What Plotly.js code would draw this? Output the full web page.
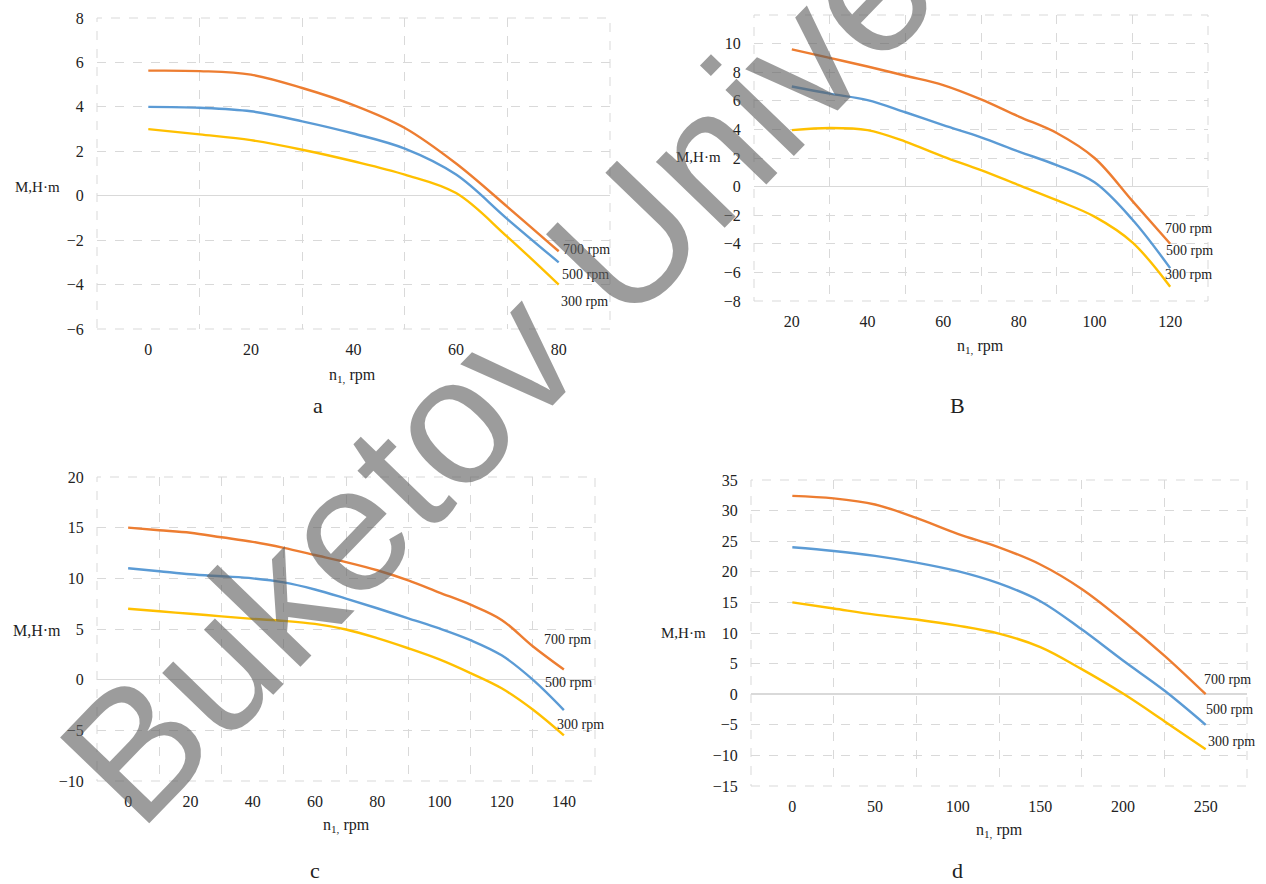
<!DOCTYPE html>
<html>
<head>
<meta charset="utf-8">
<script src="https://cdn.plot.ly/plotly-3.0.1.min.js"></script>
<style>html,body{margin:0;padding:0;background:#fff;}#chart{width:1266px;height:884px;}</style>
</head>
<body>
<div id="chart"></div>
<script>
// ---------- data ----------
const seriesNames = ["700 rpm", "500 rpm", "300 rpm"];
const panelLabels = ["a", "B", "c", "d"];

const aX = [0, 10, 20, 30, 40, 50, 60, 70, 80];
const a700 = [5.63, 5.61, 5.45, 4.85, 4.08, 3.05, 1.45, -0.5, -2.5];
const a500 = [4.0, 3.96, 3.8, 3.35, 2.8, 2.12, 0.95, -1.05, -3.0];
const a300 = [3.0, 2.76, 2.5, 2.07, 1.55, 0.95, 0.12, -1.85, -4.0];

const bX = [20, 30, 40, 50, 60, 70, 80, 90, 100, 110, 120];
const b700 = [9.6, 9.0, 8.4, 7.75, 7.1, 6.1, 4.9, 3.75, 2.0, -1.0, -4.0];
const b500 = [7.0, 6.5, 6.05, 5.2, 4.3, 3.45, 2.45, 1.5, 0.3, -2.3, -5.7];
const b300 = [3.95, 4.1, 3.95, 3.15, 2.1, 1.15, 0.1, -0.95, -2.1, -3.9, -7.0];

const cX = [0, 10, 20, 30, 40, 50, 60, 70, 80, 90, 100, 110, 120, 130, 140];
const c700 = [15.0, 14.75, 14.5, 14.05, 13.6, 13.0, 12.3, 11.6, 10.8, 9.8, 8.6, 7.4, 5.9, 3.3, 1.0];
const c500 = [11.0, 10.7, 10.4, 10.2, 10.0, 9.6, 8.9, 8.0, 7.05, 6.05, 5.05, 3.9, 2.4, 0.0, -3.0];
const c300 = [7.0, 6.75, 6.5, 6.25, 6.0, 5.8, 5.5, 4.95, 4.1, 3.1, 2.0, 0.65, -0.85, -2.95, -5.5];

const dX = [0, 25, 50, 75, 100, 125, 150, 175, 200, 225, 250];
const d700 = [32.4, 32.0, 31.0, 28.8, 26.2, 24.0, 21.2, 17.2, 12.0, 6.3, 0.0];
const d500 = [24.0, 23.4, 22.6, 21.5, 20.1, 18.1, 15.2, 10.6, 5.5, 0.6, -5.0];
const d300 = [15.0, 14.0, 13.0, 12.2, 11.2, 9.9, 7.7, 4.1, 0.1, -4.4, -9.0];

// tick labels
const aTickX = [0, 20, 40, 60, 80];
const aTickY = [-6, -4, -2, 0, 2, 4, 6, 8];
const bTickX = [20, 40, 60, 80, 100, 120];
const bTickY = [-8, -6, -4, -2, 0, 2, 4, 6, 8, 10];
const cTickX = [0, 20, 40, 60, 80, 100, 120, 140];
const cTickY = [-10, -5, 0, 5, 10, 15, 20];
const dTickX = [0, 50, 100, 150, 200, 250];
const dTickY = [-15, -10, -5, 0, 5, 10, 15, 20, 25, 30, 35];

const yTitle = "M,H·m";
const xTitle = "n<sub>1,</sub> rpm";
const watermark = "Buketov University";

// ---------- styling ----------
const W = 1266, H = 884;
const colors = ["#ED7D31", "#5B9BD5", "#FFC000"];
const FONT = "Liberation Serif";
const gridC = "#d9d9d9";

function P(px, py) { return [px / W, 1 - py / H]; }

const panels = [
  {x: aX, ys: [a700, a500, a300], box: [97, 18, 610, 329], xr: [-10, 90], yr: [-6, 8], tx: aTickX, ty: aTickY, g0: -10, gd: 20, yg0: -6, ygd: 2},
  {x: bX, ys: [b700, b500, b300], box: [754, 15, 1208, 301], xr: [10, 130], yr: [-8, 12], tx: bTickX, ty: bTickY, g0: 10, gd: 20, yg0: -8, ygd: 2},
  {x: cX, ys: [c700, c500, c300], box: [97, 477, 595, 781], xr: [-10, 150], yr: [-10, 20], tx: cTickX, ty: cTickY, g0: -10, gd: 20, yg0: -10, ygd: 5},
  {x: dX, ys: [d700, d500, d300], box: [751, 480, 1247, 786], xr: [-25, 275], yr: [-15, 35], tx: dTickX, ty: dTickY, g0: -25, gd: 50, yg0: -15, ygd: 5}
];

const traces = [];
const layout = {
  width: W, height: H,
  margin: {l: 0, r: 0, t: 0, b: 0},
  paper_bgcolor: "#fff", plot_bgcolor: "#fff",
  showlegend: false,
  font: {family: FONT, size: 16, color: "#222"},
  annotations: [],
  shapes: []
};

panels.forEach((p, i) => {
  const n = i === 0 ? "" : String(i + 1);
  p.ys.forEach((y, k) => {
    traces.push({
      x: p.x, y: y, type: "scatter", mode: "lines",
      name: seriesNames[k],
      xaxis: "x" + n, yaxis: "y" + n,
      line: {color: colors[k], width: 2.4, shape: "spline", smoothing: 1},
      hoverinfo: "skip"
    });
  });
  const [x0, y0, x1, y1] = p.box;
  layout["xaxis" + n] = {
    domain: [x0 / W, x1 / W], range: p.xr, anchor: "y" + n,
    tickmode: "array", tickvals: p.tx, showgrid: false, zeroline: false, showline: false,
    ticks: "outside", ticklen: 6, tickcolor: "rgba(0,0,0,0)",
    tickfont: {family: FONT, size: 16, color: "#222"},
    minor: {tick0: p.g0, dtick: p.gd, showgrid: true, gridcolor: gridC, griddash: "dash", gridwidth: 1, ticks: ""},
    fixedrange: true
  };
  layout["yaxis" + n] = {
    domain: [1 - y1 / H, 1 - y0 / H], range: p.yr, anchor: "x" + n,
    tickmode: "array", tickvals: p.ty,
    showgrid: false, zeroline: true, zerolinecolor: gridC, zerolinewidth: 1.5, showline: false,
    ticks: "outside", ticklen: 9, tickcolor: "rgba(0,0,0,0)",
    tickfont: {family: FONT, size: 16, color: "#222"},
    minor: {tick0: p.yg0, dtick: p.ygd, showgrid: true, gridcolor: gridC, griddash: "dash", gridwidth: 1, ticks: ""},
    fixedrange: true
  };
  // dashed frame of the plot area (Excel style outer gridlines)
  layout.shapes.push({
    type: "rect", xref: "x" + n + " domain", yref: "y" + n + " domain",
    x0: 0, x1: 1, y0: 0, y1: 1, layer: "below",
    line: {color: gridC, width: 1, dash: "dash"}
  });
});

function ann(px, py, text, size, opts) {
  const [x, y] = P(px, py);
  layout.annotations.push(Object.assign({
    xref: "paper", yref: "paper", x: x, y: y, text: text, showarrow: false,
    xanchor: "center", yanchor: "middle",
    font: {family: FONT, size: size, color: "#222"}
  }, opts || {}));
}

// y titles (horizontal)
ann(37, 187, yTitle, 15);
ann(698, 157, yTitle, 15);
ann(37, 630, yTitle, 16);
ann(683, 633, yTitle, 15);
// x titles
ann(353, 375, xTitle, 16);
ann(981, 347, xTitle, 16);
ann(346, 825, xTitle, 16);
ann(999, 830, xTitle, 16);
// series labels
const lblPos = [
  [[586, 249], [585, 274], [584, 301]],
  [[1188, 229], [1189, 250], [1188, 274]],
  [[567, 639], [568, 682], [580, 724]],
  [[1227, 679], [1229, 709], [1231, 741]]
];
lblPos.forEach((arr, i) => arr.forEach((pt, k) => ann(pt[0], pt[1], seriesNames[k], 14)));
// panel letters
ann(318, 406, panelLabels[0], 22);
ann(957, 406, panelLabels[1], 22);
ann(315, 870, panelLabels[2], 22);
ann(957, 870, panelLabels[3], 22);

// watermark
ann(612, 255, watermark, 180, {textangle: -46, font: {family: "Liberation Sans", size: 180, color: "rgba(95,95,95,0.62)"}});

Plotly.newPlot("chart", traces, layout, {staticPlot: true, displayModeBar: false});
</script>
</body>
</html>
